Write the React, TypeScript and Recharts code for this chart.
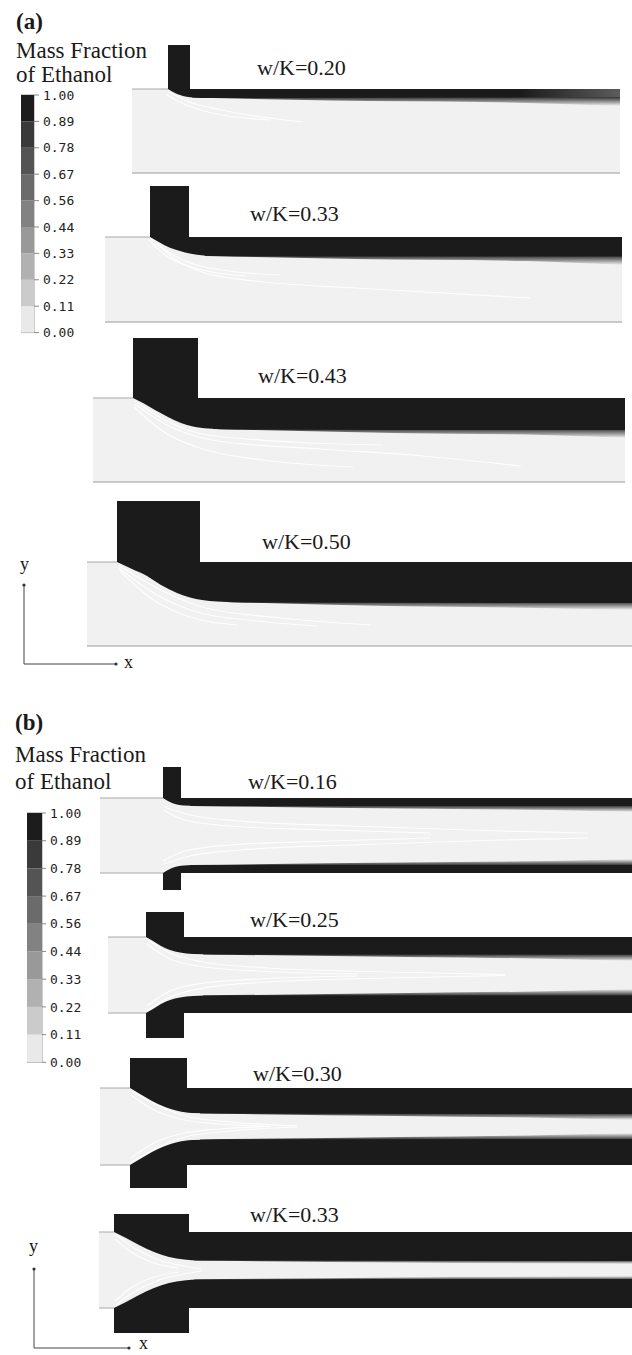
import React from "react";
import {
  ComposedChart,
  Area,
  Line,
  XAxis,
  YAxis,
  ReferenceLine,
  ReferenceArea,
  ReferenceDot,
  BarChart,
  Bar,
} from "recharts";

const SERIF = '"Liberation Serif", "Times New Roman", serif';
const MONO = '"DejaVu Sans Mono", monospace';
const INK = "#1b1b1b";
const FLUID = "#f1f1f1";

// mass fraction contour levels (legend)
const LEVEL_LABELS = ["0.00", "0.11", "0.22", "0.33", "0.44", "0.56", "0.67", "0.78", "0.89", "1.00"];
const LEVEL_GRAYS = ["#e9e9e9", "#cbcbcb", "#b1b1b1", "#999999", "#828282", "#6b6b6b", "#545454", "#3a3a3a", "#1c1c1c"];

const A_CASES = ["w/K=0.20", "w/K=0.33", "w/K=0.43", "w/K=0.50"];
const B_CASES = ["w/K=0.16", "w/K=0.25", "w/K=0.30", "w/K=0.33"];

// channel geometry: [length, width, slot start, slot end, slot above wall, slot below wall]
const A_SHAPES = [
  [488, 84, 36, 58, 44, 0],
  [517, 85, 45, 84, 51, 0],
  [532, 84, 40, 105, 60, 0],
  [545, 84, 30, 113, 61, 0],
];
const B_SHAPES = [
  [532, 75, 63, 81, 31, 17],
  [524, 76, 38, 76, 25, 25],
  [532, 77, 30, 87, 30, 23],
  [533, 76, 15, 90, 18, 25],
];

// ethanol jet edge: [x, depth below wall]
const a1Core = [[36, 0], [40, 2.5], [45, 5], [51, 7], [58, 8.3], [70, 9], [160, 9], [330, 8.6], [488, 8]];
const a2Core = [[45, 0], [52, 4], [60, 8.5], [70, 12.5], [80, 15.5], [92, 17.8], [110, 19], [200, 19.5], [517, 19.5]];
const a3Core = [[40, 0], [50, 5], [62, 12], [75, 19], [88, 25], [100, 28.5], [115, 30.5], [140, 31.5], [300, 32], [532, 32]];
const a4Core = [[30, 0], [45, 7], [60, 14], [74, 23], [90, 31], [103, 35.5], [115, 38], [130, 39.5], [160, 40.5], [545, 41]];
const b1Core = [[63, 0], [67, 2.5], [72, 5], [78, 6.8], [84, 7.6], [100, 8], [300, 8], [532, 8]];
const b2Core = [[38, 0], [45, 4], [53, 9], [62, 13], [72, 15.5], [85, 17], [110, 17.5], [524, 17.5]];
const b3Core = [[30, 0], [40, 6], [52, 13], [65, 19], [78, 23], [92, 25], [120, 25.5], [532, 26]];
const b4Core = [[15, 0], [27, 6], [40, 13], [55, 20], [70, 25], [85, 27.5], [100, 28.5], [533, 29]];

// diffuse mixing layer under the jet: [x, from depth, to depth]
const a1Mix = [[60, 7.5, 8.5], [200, 8, 11.5], [350, 7.6, 13], [430, 7.3, 15], [488, 7, 17]];
const a2Mix = [[100, 17.5, 19], [250, 18.5, 22], [420, 18.5, 24], [517, 18.5, 28]];
const a3Mix = [[120, 29.5, 31], [300, 31, 35], [450, 31, 37], [532, 31, 40]];
const a4Mix = [[140, 38.5, 40], [300, 40, 44], [450, 40, 46], [545, 40, 48]];
const b1Mix = [[90, 7, 8], [300, 7, 10.5], [450, 7, 12], [532, 7, 14]];
const b2Mix = [[95, 16.5, 17.5], [300, 16.5, 20], [450, 16.5, 22], [524, 16.5, 24]];
const b3Mix = [[100, 24.5, 25.5], [300, 25, 28], [450, 25, 30], [532, 25, 32]];
const b4Mix = [[95, 27.5, 28.5], [300, 28, 30.5], [533, 28, 32]];

// white streaks in the water stream
const a1Streaks = [
  [[37, 3], [55, 12], [90, 21], [130, 28], [171, 33]],
  [[35, 6], [52, 15], [80, 24], [138, 31]],
];
const a2Streaks = [
  [[46, 2], [62, 14], [80, 24], [110, 32], [175, 38]],
  [[50, 5], [70, 22], [100, 36], [150, 44], [250, 51], [425, 61]],
  [[44, 3], [60, 18], [90, 31], [140, 39]],
];
const a3Streaks = [
  [[42, 3], [70, 21], [110, 36], [200, 44], [290, 47]],
  [[42, 6], [72, 26], [125, 43], [228, 51], [330, 58], [428, 68]],
  [[41, 9], [68, 32], [110, 51], [170, 62], [260, 69]],
];
const a4Streaks = [
  [[31, 3], [74, 28], [115, 45], [195, 56], [284, 63]],
  [[32, 6], [70, 33], [110, 50], [170, 59], [230, 64]],
  [[33, 9], [65, 37], [100, 54], [150, 63]],
];
const b1Streaks = [
  [[64, 9], [90, 17], [140, 23], [250, 28], [400, 33], [488, 35]],
  [[63, 12], [85, 22], [130, 28], [230, 32], [330, 35]],
];
const b2Streaks = [
  [[40, 3], [62, 16], [95, 25], [160, 31], [280, 35], [397, 37.5]],
  [[39, 7], [60, 21], [90, 29], [150, 34], [250, 37]],
];
const b3Streaks = [
  [[32, 3], [55, 16], [85, 28], [130, 34], [197, 38]],
  [[31, 7], [52, 21], [80, 31], [120, 36], [170, 38.5]],
];
const b4Streaks = [
  [[17, 3], [35, 16], [60, 28], [85, 34], [103, 37]],
  [[16, 7], [32, 20], [55, 31], [80, 36]],
];

const A_CORES = [a1Core, a2Core, a3Core, a4Core];
const A_MIX = [a1Mix, a2Mix, a3Mix, a4Mix];
const A_STREAKS = [a1Streaks, a2Streaks, a3Streaks, a4Streaks];
const B_CORES = [b1Core, b2Core, b3Core, b4Core];
const B_MIX = [b1Mix, b2Mix, b3Mix, b4Mix];
const B_STREAKS = [b1Streaks, b2Streaks, b3Streaks, b4Streaks];

// page placement
const A_POS = [[132, 45], [105, 186], [93, 338], [87, 501]];
const B_POS = [[100, 767], [108, 912], [100, 1058], [99, 1214]];
const A_LABEL_POS = [[257, 75], [250, 221], [258, 383], [262, 549]];
const B_LABEL_POS = [[248, 789], [250, 927], [253, 1081], [250, 1222]];

const GLYPH = [{ x: 0, y: 1 }, { x: 0, y: 0 }, { x: 1, y: 0 }];

function Txt({ x, base, size, bold, children }: any) {
  return (
    <div
      style={{
        position: "absolute",
        left: x,
        top: base - size * 0.84,
        fontFamily: SERIF,
        fontSize: size,
        lineHeight: `${size}px`,
        fontWeight: bold ? "bold" : "normal",
        color: "#1a1a1a",
        whiteSpace: "nowrap",
      }}
    >
      {children}
    </div>
  );
}

function ColorBar({ left, top, barW, band, font, tick }: any) {
  const pad = 9;
  const axisW = 52;
  const h = band * 9;
  const row: any = { name: "scale" };
  LEVEL_GRAYS.forEach((_, i) => (row[`l${i}`] = 1));
  return (
    <div style={{ position: "absolute", left, top: top - pad }}>
      <BarChart
        width={barW + axisW}
        height={h + pad * 2}
        data={[row]}
        margin={{ top: pad, bottom: pad, left: 0, right: 0 }}
        barCategoryGap={0}
      >
        <XAxis dataKey="name" hide />
        <YAxis
          orientation="right"
          type="number"
          domain={[0, 9]}
          ticks={[0, 1, 2, 3, 4, 5, 6, 7, 8, 9]}
          interval={0}
          tickFormatter={(v: number) => LEVEL_LABELS[v]}
          width={axisW}
          axisLine={false}
          tickSize={tick}
          tickMargin={4}
          tickLine={{ stroke: "#8a8a8a" }}
          tick={{ fontFamily: MONO, fontSize: font, fill: "#222" }}
        />
        {LEVEL_GRAYS.map((c, i) => (
          <Bar key={c} dataKey={`l${i}`} stackId="lv" fill={c} isAnimationActive={false} />
        ))}
        <ReferenceArea y1={0} y2={9} fill="none" stroke="#9a9a9a" strokeWidth={1} />
      </BarChart>
    </div>
  );
}

function Channel({ id, shape, core, mix, streaks, twin, fadeEnd, left, top }: any) {
  const [len, wid, s0, s1, up, down] = shape;
  const h = up + wid + down;
  const fluid = [{ x: 0, span: [0, wid] }, { x: len, span: [0, wid] }];
  const slotTop = [{ x: s0, span: [-up, 0] }, { x: s1, span: [-up, 0] }];
  const slotBot = [{ x: s0, span: [wid, wid + down] }, { x: s1, span: [wid, wid + down] }];
  const jetTop = core.map(([x, d]: number[]) => ({ x, span: [0, d] }));
  const mixTop = mix.map(([x, d0, d1]: number[]) => ({ x, span: [d0, d1] }));
  const jetBot = core.map(([x, d]: number[]) => ({ x, span: [wid - d, wid] }));
  const mixBot = mix.map(([x, d0, d1]: number[]) => ({ x, span: [wid - d1, wid - d0] }));
  const lines = twin
    ? [...streaks, ...streaks.map((l: number[][]) => l.map(([x, y]) => [x, wid - y]))]
    : streaks;
  const area = {
    type: "monotone" as const,
    stroke: "none",
    fillOpacity: 1,
    isAnimationActive: false,
    dataKey: "span",
  };
  return (
    <div style={{ position: "absolute", left, top }}>
      <ComposedChart width={len} height={h + 1} margin={{ top: 0, right: 0, bottom: 1, left: 0 }}>
        <defs>
          <linearGradient id={`${id}-mt`} x1="0" y1="0" x2="0" y2="1">
            <stop offset="0%" stopColor={INK} />
            <stop offset="100%" stopColor={FLUID} />
          </linearGradient>
          <linearGradient id={`${id}-mb`} x1="0" y1="0" x2="0" y2="1">
            <stop offset="0%" stopColor={FLUID} />
            <stop offset="100%" stopColor={INK} />
          </linearGradient>
          <linearGradient id={`${id}-core`} x1="0" y1="0" x2="1" y2="0">
            <stop offset="0%" stopColor={INK} />
            <stop offset={fadeEnd ? "78%" : "100%"} stopColor={INK} />
            <stop offset="100%" stopColor={fadeEnd ? "#5c5c5c" : INK} />
          </linearGradient>
        </defs>
        <XAxis type="number" dataKey="x" domain={[0, len]} hide allowDataOverflow />
        <YAxis type="number" domain={[-up, wid + down]} reversed hide allowDataOverflow />
        <Area {...area} type="linear" data={fluid} fill={FLUID} />
        <Area {...area} data={mixTop} fill={`url(#${id}-mt)`} />
        {twin && <Area {...area} data={mixBot} fill={`url(#${id}-mb)`} />}
        <Area {...area} data={jetTop} fill={`url(#${id}-core)`} />
        {twin && <Area {...area} data={jetBot} fill={`url(#${id}-core)`} />}
        <Area {...area} type="linear" data={slotTop} fill={INK} />
        {twin && <Area {...area} type="linear" data={slotBot} fill={INK} />}
        {lines.map((l: number[][], i: number) => (
          <Line
            key={i}
            data={l.map(([x, y]) => ({ x, y }))}
            dataKey="y"
            type="monotone"
            stroke="#ffffff"
            strokeWidth={1.2}
            strokeOpacity={0.9}
            dot={false}
            activeDot={false}
            isAnimationActive={false}
          />
        ))}
        <ReferenceLine segment={[{ x: 0, y: 0 }, { x: s0, y: 0 }]} stroke="#a8a8a8" />
        {twin ? (
          <ReferenceLine segment={[{ x: 0, y: wid }, { x: s0, y: wid }]} stroke="#a8a8a8" />
        ) : (
          <ReferenceLine y={wid} stroke="#9a9a9a" />
        )}
      </ComposedChart>
    </div>
  );
}

function AxisGlyph({ left, top, w, h }: any) {
  return (
    <div style={{ position: "absolute", left: left - 3, top: top - 3 }}>
      <ComposedChart width={w + 6} height={h + 6} margin={{ top: 3, right: 3, bottom: 3, left: 3 }}>
        <XAxis type="number" dataKey="x" domain={[0, 1]} hide />
        <YAxis type="number" domain={[0, 1]} hide />
        <Line data={GLYPH} dataKey="y" type="linear" stroke="#444" strokeWidth={1} dot={false} isAnimationActive={false} />
        <ReferenceDot x={0} y={1} r={1.6} fill="#333" stroke="none" />
        <ReferenceDot x={1} y={0} r={1.6} fill="#333" stroke="none" />
      </ComposedChart>
    </div>
  );
}

export default function App() {
  return (
    <div
      style={{
        position: "absolute",
        left: 0,
        top: 0,
        width: 632,
        height: 1355,
        background: "#fff",
        overflow: "hidden",
      }}
    >
      {/* (a) single-sided injection */}
      <Txt x={16} base={29} size={23} bold>(a)</Txt>
      <Txt x={16} base={58} size={23}>Mass Fraction</Txt>
      <Txt x={16} base={82} size={23}>of Ethanol</Txt>
      <ColorBar left={21} top={95} barW={13} band={26.4} font={13} tick={5} />
      {A_SHAPES.map((shape, i) => (
        <Channel
          key={A_CASES[i]}
          id={`a${i}`}
          shape={shape}
          core={A_CORES[i]}
          mix={A_MIX[i]}
          streaks={A_STREAKS[i]}
          fadeEnd={i === 0}
          left={A_POS[i][0]}
          top={A_POS[i][1]}
        />
      ))}
      {A_CASES.map((t, i) => (
        <Txt key={t} x={A_LABEL_POS[i][0]} base={A_LABEL_POS[i][1]} size={22}>{t}</Txt>
      ))}
      <AxisGlyph left={24} top={585} w={92} h={79} />
      <Txt x={20} base={570} size={18}>y</Txt>
      <Txt x={124} base={668} size={18}>x</Txt>

      {/* (b) double-sided injection */}
      <Txt x={15} base={730} size={23} bold>(b)</Txt>
      <Txt x={15} base={762} size={23}>Mass Fraction</Txt>
      <Txt x={15} base={789} size={23}>of Ethanol</Txt>
      <ColorBar left={27} top={813} barW={15} band={27.7} font={13} tick={4} />
      {B_SHAPES.map((shape, i) => (
        <Channel
          key={B_CASES[i] + i}
          id={`b${i}`}
          shape={shape}
          core={B_CORES[i]}
          mix={B_MIX[i]}
          streaks={B_STREAKS[i]}
          twin
          left={B_POS[i][0]}
          top={B_POS[i][1]}
        />
      ))}
      {B_CASES.map((t, i) => (
        <Txt key={t + i} x={B_LABEL_POS[i][0]} base={B_LABEL_POS[i][1]} size={22}>{t}</Txt>
      ))}
      <AxisGlyph left={34} top={1269} w={95} h={79} />
      <Txt x={29} base={1252} size={18}>y</Txt>
      <Txt x={139} base={1349} size={18}>x</Txt>
    </div>
  );
}
